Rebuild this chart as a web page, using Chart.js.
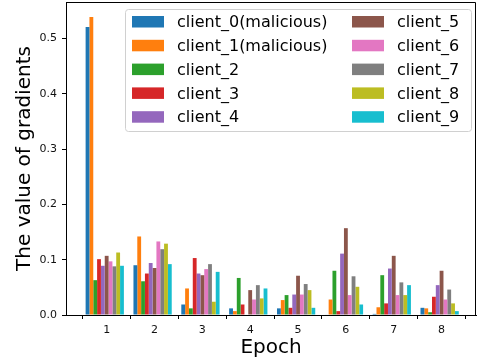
<!DOCTYPE html>
<html>
<head>
<meta charset="utf-8">
<script src="https://cdn.jsdelivr.net/npm/chart.js@4"></script>
<style>
    body { margin: 0; background: #fff; }
    canvas { display: block; }
</style>
</head>
<body>
<canvas id="gradChart" width="477" height="364"></canvas>
<script>
// ===== DATA =====
const epochs = [1, 2, 3, 4, 5, 6, 7, 8];
const clientNames = ['client_0(malicious)', 'client_1(malicious)', 'client_2', 'client_3', 'client_4',
    'client_5', 'client_6', 'client_7', 'client_8', 'client_9'];
const client0 = [0.521, 0.090, 0.019, 0.012, 0.012, 0.001, 0.002, 0.013];
const client1 = [0.539, 0.142, 0.048, 0.007, 0.027, 0.028, 0.014, 0.012];
const client2 = [0.063, 0.061, 0.012, 0.067, 0.036, 0.080, 0.072, 0.005];
const client3 = [0.101, 0.075, 0.103, 0.019, 0.013, 0.007, 0.021, 0.033];
const client4 = [0.089, 0.094, 0.075, 0.001, 0.037, 0.111, 0.084, 0.054];
const client5 = [0.107, 0.085, 0.072, 0.045, 0.071, 0.157, 0.107, 0.080];
const client6 = [0.097, 0.133, 0.083, 0.028, 0.037, 0.036, 0.036, 0.028];
const client7 = [0.088, 0.119, 0.092, 0.054, 0.056, 0.070, 0.059, 0.046];
const client8 = [0.113, 0.129, 0.024, 0.030, 0.045, 0.051, 0.036, 0.021];
const client9 = [0.089, 0.092, 0.078, 0.048, 0.013, 0.019, 0.054, 0.007];
const yTicks = [0, 0.1, 0.2, 0.3, 0.4, 0.5];

const seriesValues = [client0, client1, client2, client3, client4, client5, client6, client7, client8, client9];
const colors = ['#1f77b4', '#ff7f0e', '#2ca02c', '#d62728', '#9467bd',
    '#8c564b', '#e377c2', '#7f7f7f', '#bcbd22', '#17becf'];

const FONT = 'DejaVu Sans';

// top and right spines
const framePlugin = {
    id: 'frame',
    afterDatasetsDraw(chart) {
        const { ctx, chartArea: a } = chart;
        ctx.save();
        ctx.strokeStyle = '#000';
        ctx.lineWidth = 1;
        ctx.beginPath();
        ctx.moveTo(a.left, a.top + 0.5);
        ctx.lineTo(a.right - 0.5, a.top + 0.5);
        ctx.lineTo(a.right - 0.5, a.bottom);
        ctx.stroke();
        ctx.restore();
    }
};

// two-column legend, filled column by column
const legendPlugin = {
    id: 'colLegend',
    afterDraw(chart) {
        const ctx = chart.ctx;
        const box = { x: 125, y: 9, w: 346, h: 122 };
        ctx.save();
        ctx.fillStyle = 'rgba(255,255,255,0.8)';
        ctx.strokeStyle = '#d0d0d0';
        ctx.lineWidth = 1;
        ctx.beginPath();
        ctx.roundRect(box.x + 0.5, box.y + 0.5, box.w, box.h, 3);
        ctx.fill();
        ctx.stroke();

        ctx.font = '16px "' + FONT + '"';
        ctx.textBaseline = 'middle';
        chart.data.datasets.forEach((ds, i) => {
            const col = Math.floor(i / 5);
            const row = i % 5;
            const hx = 132 + col * 220;
            const cy = 22 + row * 23.8;
            ctx.fillStyle = ds.backgroundColor;
            ctx.fillRect(hx, cy - 6, 32, 11.5);
            ctx.fillStyle = '#000';
            ctx.fillText(ds.label, hx + 45, cy + 1);
        });
        ctx.restore();
    }
};

function noPad(scale) {
    scale.paddingTop = 0;
    scale.paddingBottom = 0;
    scale.paddingLeft = 0;
    scale.paddingRight = 0;
}

function buildDatasets() {
    // bars sit half a bar left of the tick, as in the source figure
    return seriesValues.map((vals, k) => ({
        label: clientNames[k],
        data: epochs.map((e, i) => ({ x: e - 0.04, y: vals[i] })),
        backgroundColor: colors[k],
        borderWidth: 0,
        categoryPercentage: 0.8,
        barPercentage: 1.0
    }));
}

function drawChart() {
    const ctx = document.getElementById('gradChart');
    new Chart(ctx, {
        type: 'bar',
        data: { datasets: buildDatasets() },
        options: {
            responsive: false,
            animation: false,
            layout: { padding: { top: 2, right: 1, left: 0, bottom: 0 } },
            plugins: {
                legend: { display: false },
                tooltip: { enabled: false }
            },
            scales: {
                x: {
                    type: 'linear',
                    offset: false,
                    min: 0.15,
                    max: 8.72,
                    afterBuildTicks: scale => { scale.ticks = epochs.map(v => ({ value: v })); },
                    afterFit: scale => { scale.height = 49; noPad(scale); },
                    ticks: {
                        color: '#111',
                        padding: 5,
                        maxRotation: 0,
                        font: { family: FONT, size: 11 },
                        callback: v => String(v)
                    },
                    grid: { drawOnChartArea: false, drawTicks: true, tickLength: 4, color: '#000' },
                    border: { display: true, color: '#000', width: 1 },
                    title: {
                        display: true,
                        text: 'Epoch',
                        color: '#000',
                        font: { family: FONT, size: 20 },
                        padding: { top: 0, bottom: 4 }
                    }
                },
                y: {
                    min: 0,
                    max: 0.566,
                    afterBuildTicks: scale => { scale.ticks = yTicks.map(v => ({ value: v })); },
                    afterFit: scale => { scale.width = 66; noPad(scale); },
                    ticks: {
                        color: '#111',
                        padding: 5,
                        font: { family: FONT, size: 11 },
                        callback: v => v.toFixed(1)
                    },
                    grid: { drawOnChartArea: false, drawTicks: true, tickLength: 4, color: '#000' },
                    border: { display: true, color: '#000', width: 1 },
                    title: {
                        display: true,
                        text: 'The value of gradients',
                        color: '#000',
                        font: { family: FONT, size: 20 },
                        padding: { top: 13, bottom: 0 }
                    }
                }
            }
        },
        plugins: [framePlugin, legendPlugin]
    });
}

document.addEventListener('DOMContentLoaded', drawChart);
</script>
</body>
</html>
